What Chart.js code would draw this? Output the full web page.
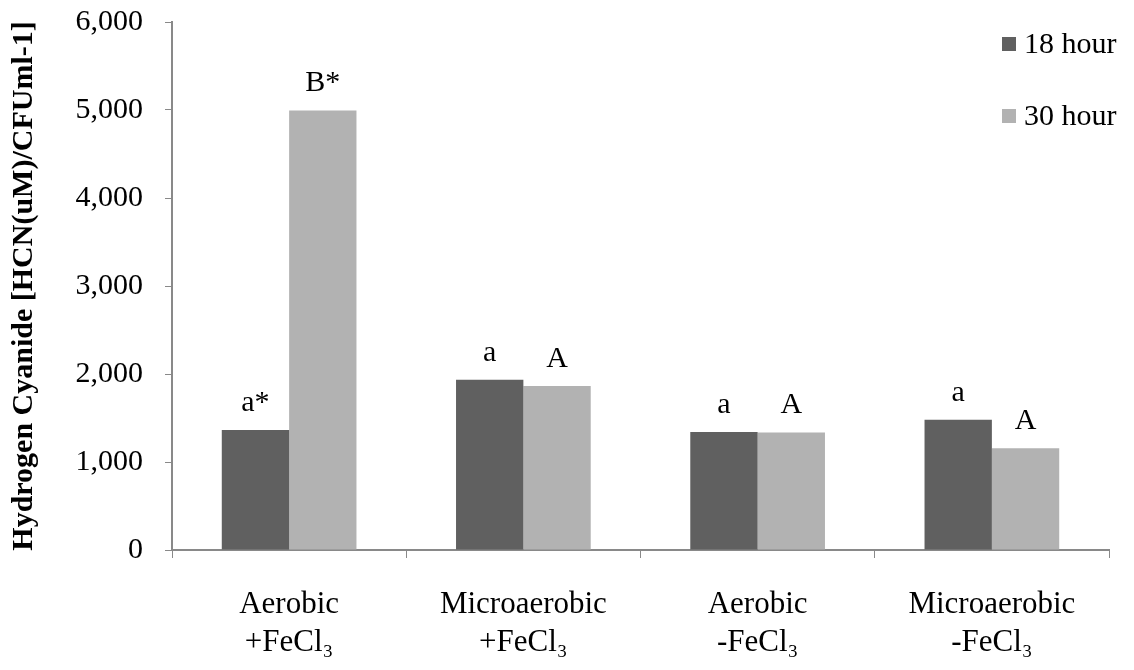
<!DOCTYPE html>
<html lang="en">
<head>
    <meta charset="UTF-8">
    <title>Hydrogen Cyanide</title>
    <script src="https://cdn.jsdelivr.net/npm/chart.js"></script>
    <style>
        body { margin: 0; padding: 0; background: #fff; }
        .chart-container { position: relative; width: 1134px; height: 670px; }
    </style>
</head>
<body>
    <div class="chart-container">
        <canvas id="hcnChart"></canvas>
    </div>

    <script>
        // data
        const categories = [
            ['Aerobic', '+FeCl₃'],
            ['Microaerobic', '+FeCl₃'],
            ['Aerobic', '-FeCl₃'],
            ['Microaerobic', '-FeCl₃']
        ];
        const hour18 = [1365, 1935, 1340, 1480];
        const hour30 = [4995, 1865, 1335, 1155];
        const letters18 = ['a*', 'a', 'a', 'a'];
        const letters30 = ['B*', 'A', 'A', 'A'];
        const yTicks = [0, 1000, 2000, 3000, 4000, 5000, 6000];

        const serif = "'Liberation Serif', 'Times New Roman', serif";
        const axisGrey = '#898989';

        // letters above the bars
        const letterPlugin = {
            id: 'letters',
            afterDatasetsDraw(chart) {
                const ctx = chart.ctx;
                ctx.save();
                ctx.font = '30px ' + serif;
                ctx.fillStyle = '#000';
                ctx.textAlign = 'center';
                ctx.textBaseline = 'middle';
                chart.data.datasets.forEach((ds, i) => {
                    chart.getDatasetMeta(i).data.forEach((bar, j) => {
                        ctx.fillText(ds.letters[j], bar.x, bar.y - 27);
                    });
                });
                ctx.restore();
            }
        };

        // legend sits inside the plot, top right
        const legendPlugin = {
            id: 'cornerLegend',
            afterDraw(chart) {
                const ctx = chart.ctx;
                ctx.save();
                ctx.font = '30px ' + serif;
                ctx.textBaseline = 'middle';
                chart.data.datasets.forEach((ds, i) => {
                    const y = 44 + i * 72;
                    ctx.fillStyle = ds.backgroundColor;
                    ctx.fillRect(1002, y - 7, 14, 14);
                    ctx.fillStyle = '#000';
                    ctx.fillText(ds.label, 1024, y + 1);
                });
                ctx.restore();
            }
        };

        new Chart(document.getElementById('hcnChart'), {
            type: 'bar',
            data: {
                labels: categories,
                datasets: [
                    { label: '18 hour', data: hour18, letters: letters18, backgroundColor: '#606060' },
                    { label: '30 hour', data: hour30, letters: letters30, backgroundColor: '#b2b2b2' }
                ]
            },
            options: {
                responsive: true,
                maintainAspectRatio: false,
                animation: false,
                layout: { padding: { top: 22, right: 25, left: 0, bottom: 0 } },
                datasets: {
                    bar: { categoryPercentage: 0.575, barPercentage: 1.0 }
                },
                plugins: {
                    legend: { display: false },
                    tooltip: { enabled: false }
                },
                scales: {
                    x: {
                        grid: {
                            display: true,
                            offset: true,
                            drawOnChartArea: false,
                            drawTicks: true,
                            tickLength: 8,
                            color: axisGrey
                        },
                        border: { color: axisGrey, width: 2 },
                        ticks: {
                            color: '#000',
                            padding: 28,
                            maxRotation: 0,
                            font: { family: serif, size: 31, lineHeight: 1.22 }
                        },
                        afterFit(scale) {
                            scale.height = 120;
                            scale.paddingLeft = 0;
                            scale.paddingRight = 0;
                        }
                    },
                    y: {
                        min: 0,
                        max: 6000,
                        afterBuildTicks(scale) {
                            scale.ticks = yTicks.map(v => ({ value: v }));
                        },
                        grid: {
                            display: true,
                            drawOnChartArea: false,
                            drawTicks: true,
                            tickLength: 7,
                            color: axisGrey
                        },
                        border: { color: axisGrey, width: 2 },
                        ticks: {
                            color: '#000',
                            padding: 22,
                            font: { family: serif, size: 30 },
                            callback: v => v.toLocaleString('en-US')
                        },
                        title: {
                            display: true,
                            text: 'Hydrogen Cyanide [HCN(uM)/CFUml-1]',
                            color: '#000',
                            padding: { top: 6, bottom: 0 },
                            font: { family: serif, size: 30, weight: 'bold' }
                        },
                        afterFit(scale) {
                            scale.width = 172;
                            scale.paddingTop = 0;
                            scale.paddingBottom = 0;
                        }
                    }
                }
            },
            plugins: [letterPlugin, legendPlugin]
        });
    </script>
</body>
</html>
